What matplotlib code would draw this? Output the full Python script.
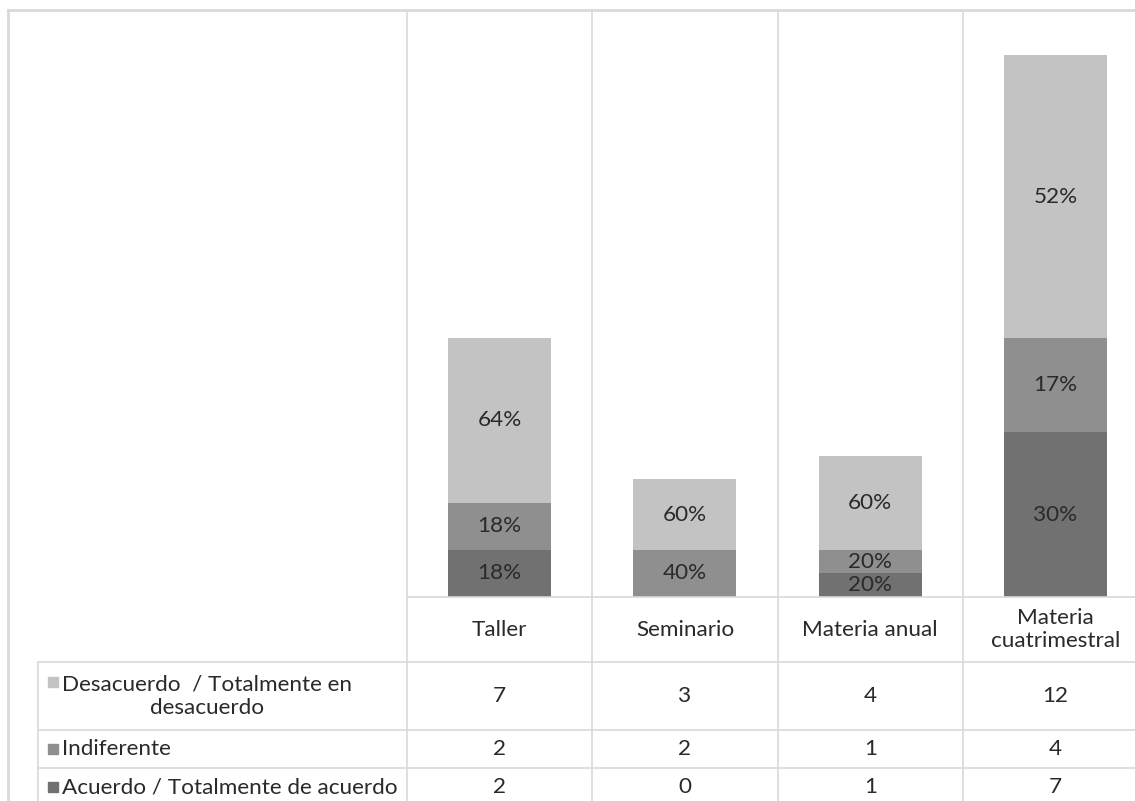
import matplotlib

matplotlib.use("Agg")
import matplotlib.pyplot as plt
from matplotlib.lines import Line2D
from matplotlib.patches import Rectangle
from matplotlib.transforms import blended_transform_factory

# data
categories = ["Taller", "Seminario", "Materia anual", "Materia\ncuatrimestral"]
series = ["Desacuerdo  / Totalmente en\ndesacuerdo", "Indiferente",
          "Acuerdo / Totalmente de acuerdo"]
acuerdo = [2, 0, 1, 7]
indiferente = [2, 2, 1, 4]
desacuerdo = [7, 3, 4, 12]
# percent labels as printed in the source (they do not all match the counts)
pct_acuerdo = ["18%", "", "20%", "30%"]
pct_indiferente = ["18%", "40%", "20%", "17%"]
pct_desacuerdo = ["64%", "60%", "60%", "52%"]

c_acu, c_ind, c_des = "#717171", "#8f8f8f", "#c3c3c3"
grid = "#d9d9d9"
txt = "#2a2a2a"

plt.rcParams["font.family"] = ["Lato", "DejaVu Sans"]

W, H = 1135, 801
fig = plt.figure(figsize=(W / 100, H / 100), dpi=100)


def fx(px):
    return px / W


def fy(py):
    return 1 - py / H


x0, cat_w, base_y, unit = 407, 185.3, 597, 23.55
ax = fig.add_axes([fx(x0), fy(base_y), 4 * cat_w / W, 25 * unit / H])
ax.set_xlim(-0.5, 3.5)
ax.set_ylim(0, 25)
ax.axis("off")

x = range(len(categories))
bw = 0.556
ax.bar(x, acuerdo, bw, color=c_acu, zorder=3)
ax.bar(x, indiferente, bw, bottom=acuerdo, color=c_ind, zorder=3)
bot2 = [a + b for a, b in zip(acuerdo, indiferente)]
ax.bar(x, desacuerdo, bw, bottom=bot2, color=c_des, zorder=3)

fs = 16.2
for i in x:
    segs = [(0, acuerdo[i], pct_acuerdo[i]),
            (acuerdo[i], indiferente[i], pct_indiferente[i]),
            (bot2[i], desacuerdo[i], pct_desacuerdo[i])]
    for b, h, lab in segs:
        if h > 0 and lab:
            ax.text(i, b + h / 2, lab, ha="center", va="center",
                    fontsize=fs, color=txt, zorder=4)

# chart frame and grid
tr = blended_transform_factory(ax.transData, fig.transFigure)
for xv in [-0.5, 0.5, 1.5, 2.5, 3.5]:
    fig.add_artist(Line2D([xv, xv], [fy(10), 0], transform=tr,
                          color=grid, lw=1.2))
fig.add_artist(Line2D([fx(8), 1], [fy(10), fy(10)], color=grid, lw=2))
fig.add_artist(Line2D([fx(8), fx(8)], [fy(10), 0], color=grid, lw=2))
fig.add_artist(Line2D([fx(x0), 1], [fy(base_y), fy(base_y)],
                      color=grid, lw=1.2))
rows_y = [662, 730, 768]
for ry in rows_y:
    fig.add_artist(Line2D([fx(38), 1], [fy(ry), fy(ry)], color=grid, lw=1.2))
fig.add_artist(Line2D([fx(38), fx(38)], [fy(662), 0], color=grid, lw=1.2))

# data table
for i, cat in enumerate(categories):
    ax.text(i, fy(629.5), cat, transform=tr, ha="center", va="center",
            fontsize=fs, color=txt, linespacing=1.2)
row_mid = [696, 749, 787]
row_vals = [desacuerdo, indiferente, acuerdo]
row_cols = [c_des, c_ind, c_acu]
for name, ym, vals, col in zip(series, row_mid, row_vals, row_cols):
    for i, v in enumerate(vals):
        ax.text(i, fy(ym), str(v), transform=tr, ha="center", va="center",
                fontsize=fs, color=txt)
    sq_y = ym - 14 if "\n" in name else ym
    fig.add_artist(Rectangle((fx(48), fy(sq_y + 5)), 10 / W, 10 / H,
                             color=col, transform=fig.transFigure))
    fig.text(fx(62), fy(ym), name, ha="left", va="center", fontsize=fs,
             color=txt, multialignment="center", linespacing=1.2)

fig.savefig("out.png", dpi=100)
